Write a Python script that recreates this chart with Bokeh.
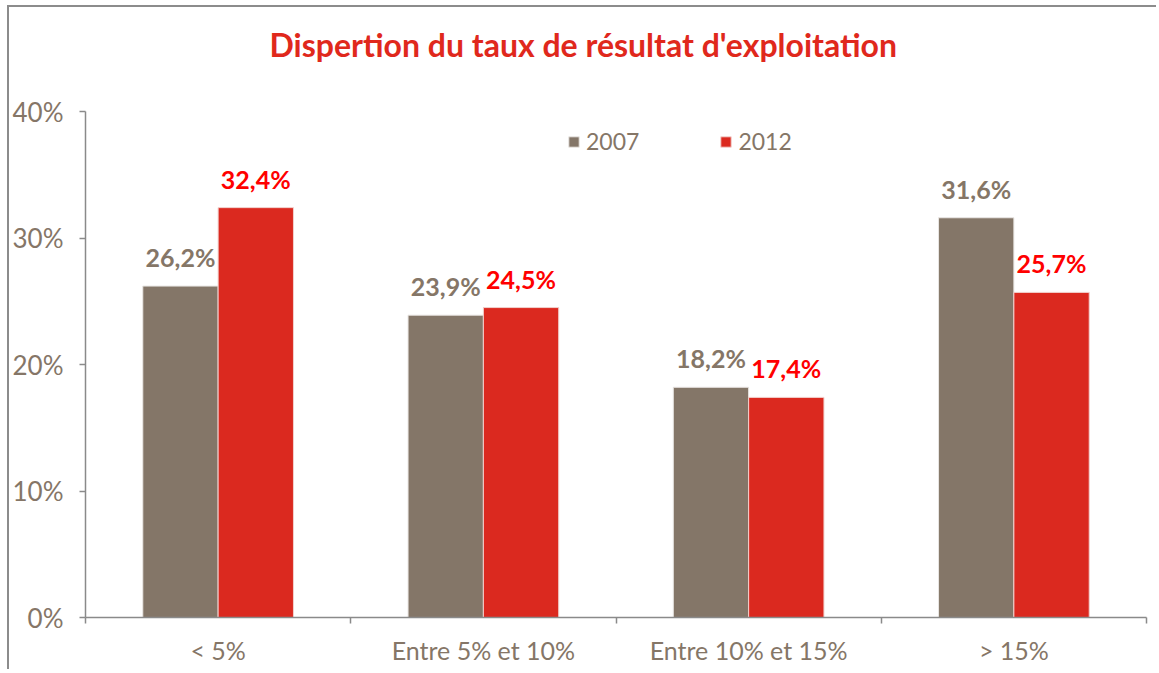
from bokeh.plotting import figure
from bokeh.models import (ColumnDataSource, FixedTicker, NumeralTickFormatter, Range1d,
                          LabelSet, Legend, LegendItem, Title)
from bokeh.core.properties import value
from bokeh.embed import file_html
from bokeh.resources import INLINE

categories = ["< 5%", "Entre 5% et 10%", "Entre 10% et 15%", "> 15%"]
series_names = ["2007", "2012"]
values_2007 = [26.2, 23.9, 18.2, 31.6]
values_2012 = [32.4, 24.5, 17.4, 25.7]
y_ticks = [0, 10, 20, 30, 40]

title_text = "Dispertion du taux de résultat d'exploitation"

GREY = "#847668"
RED = "#db291f"
AXIS = "#8a8a8a"
TXT = "#857667"
FONT = "Lato"

n = len(categories)
centers = [i + 0.5 for i in range(n)]
dodge = 0.142
bw = 0.284

def fmt(v):
    return f"{v:.1f}%".replace(".", ",")

src07 = ColumnDataSource(dict(x=[c - dodge for c in centers], top=[v / 100 for v in values_2007],
                              lbl=[fmt(v) for v in values_2007]))
src12 = ColumnDataSource(dict(x=[c + dodge for c in centers], top=[v / 100 for v in values_2012],
                              lbl=[fmt(v) for v in values_2012]))

p = figure(width=1149, height=664, output_backend="svg", toolbar_location=None,
           x_range=Range1d(0, n), y_range=Range1d(0, y_ticks[-1] / 100),
           min_border_left=75, min_border_right=12, min_border_top=103, min_border_bottom=54)
p.styles = {"margin-left": "7px", "margin-top": "5px",
            "border-top": "2px solid #8c8c8c", "border-left": "2px solid #8c8c8c"}
p.outline_line_color = None
p.xgrid.grid_line_color = None
p.ygrid.grid_line_color = None
p.background_fill_color = "white"

# spacer between frame and title (closest to the frame)
p.add_layout(Title(text=" ", text_font_size="2px", standoff=24), "above")

p.title.text = title_text
p.title.align = "left"
p.title.offset = 184
p.title.vertical_align = "top"
p.title.standoff = 35
p.title.text_font = FONT
p.title.text_font_size = "32px"
p.title.text_font_style = "bold"
p.title.text_color = "#e0281c"

r07 = p.vbar(x="x", top="top", width=bw, source=src07, fill_color=GREY, line_color="#e9e6e3", line_width=1)
r12 = p.vbar(x="x", top="top", width=bw, source=src12, fill_color=RED, line_color="#f2d0cc", line_width=1)

for src, col in ((src07, TXT), (src12, "#ff0000")):
    p.add_layout(LabelSet(x="x", y="top", text="lbl", source=src, text_align="center",
                          text_baseline="alphabetic", y_offset=19, text_font=value(FONT),
                          text_font_size=value("25px"), text_font_style="bold", text_color=col))

# y axis
p.yaxis.ticker = FixedTicker(ticks=[t / 100 for t in y_ticks])
p.yaxis.formatter = NumeralTickFormatter(format="0%")
p.yaxis.axis_line_color = AXIS
p.yaxis.axis_line_width = 1.5
p.yaxis.major_tick_line_color = AXIS
p.yaxis.major_tick_line_width = 1.5
p.yaxis.major_tick_in = 0
p.yaxis.major_tick_out = 6
p.yaxis.minor_tick_line_color = None
p.yaxis.major_label_standoff = 16
p.yaxis.major_label_text_font = FONT
p.yaxis.major_label_text_font_size = "26px"
p.yaxis.major_label_text_color = TXT

# x axis: labels at category centers, ticks at boundaries
p.xaxis.ticker = FixedTicker(ticks=centers, minor_ticks=list(range(n + 1)))
p.xaxis.major_label_overrides = {c: lab for c, lab in zip(centers, categories)}
p.xaxis.axis_line_color = AXIS
p.xaxis.axis_line_width = 1.5
p.xaxis.major_tick_line_color = None
p.xaxis.major_tick_in = 0
p.xaxis.major_tick_out = 6
p.xaxis.minor_tick_line_color = AXIS
p.xaxis.minor_tick_line_width = 1.5
p.xaxis.minor_tick_in = 0
p.xaxis.minor_tick_out = 6
p.xaxis.major_label_standoff = 11
p.xaxis.major_label_text_font = FONT
p.xaxis.major_label_text_font_size = "25px"
p.xaxis.major_label_text_color = TXT

legend = Legend(items=[LegendItem(label=series_names[0], renderers=[r07]),
                       LegendItem(label=series_names[1], renderers=[r12])],
                orientation="horizontal", location=(482, 462), spacing=80,
                glyph_width=13, glyph_height=13, label_standoff=6,
                label_text_font=FONT, label_text_font_size="23px", label_text_color=TXT,
                padding=0, margin=0, border_line_color=None, background_fill_alpha=0)
p.add_layout(legend)

open("out.html", "w").write(file_html(p, INLINE))
